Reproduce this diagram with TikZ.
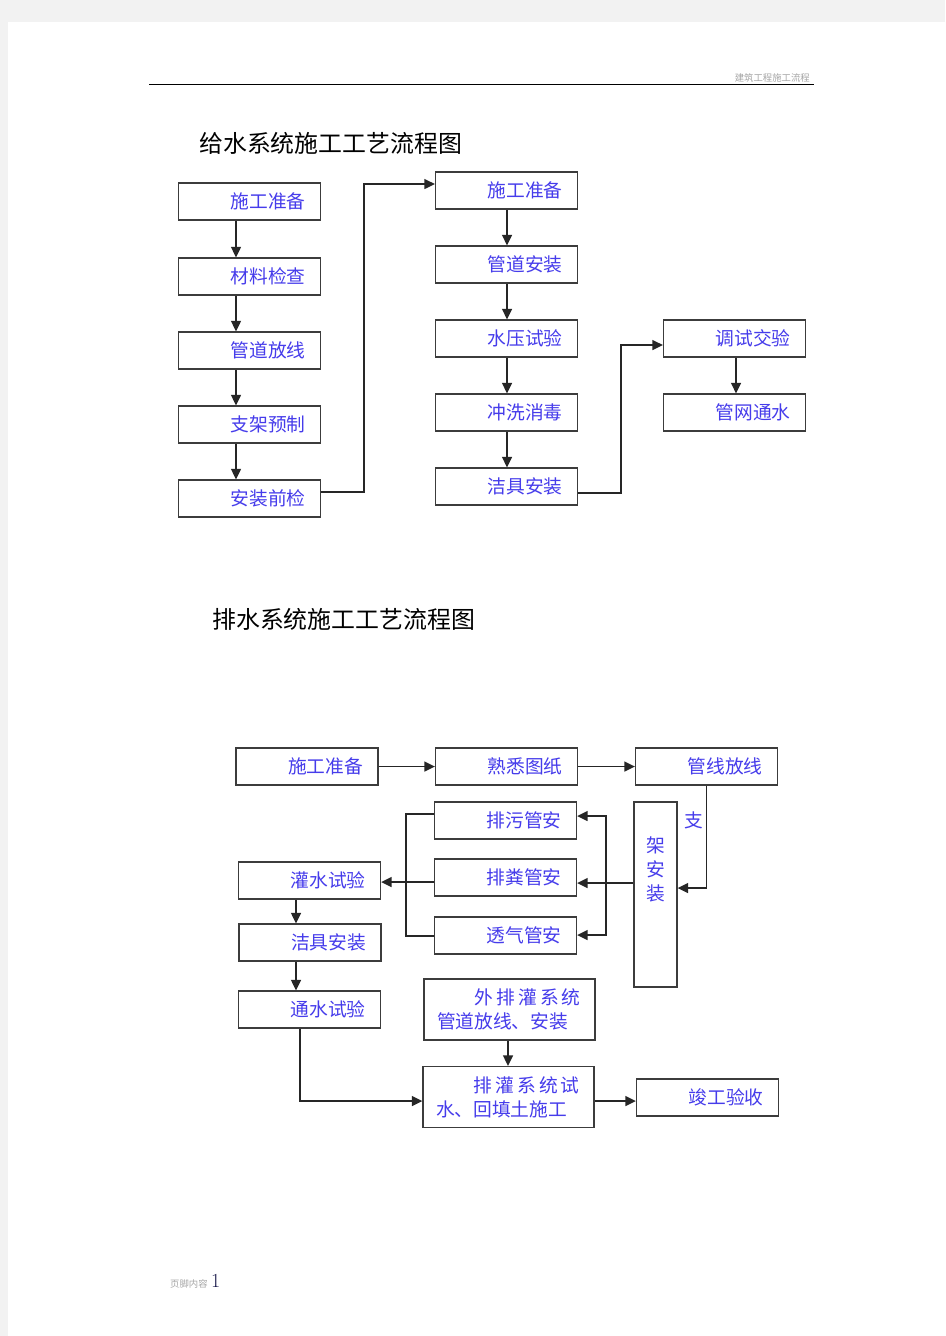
\documentclass[tikz,border=0pt]{standalone}
\usepackage{fontspec}
\newfontfamily\cjk{Noto Sans CJK SC}
\usetikzlibrary{arrows.meta}
\definecolor{txtblue}{RGB}{70,60,235}
\definecolor{boxgray}{RGB}{60,60,60}
\definecolor{pagegray}{RGB}{242,242,242}

\begin{document}
\begin{tikzpicture}[x=0.03cm,y=-0.03cm,
    box/.style={draw=boxgray,line width=1.1pt,minimum height=1.11cm,
        text width=3.36cm,inner xsep=0.45cm,inner ysep=0pt,align=right,
        text=txtblue,font=\cjk\fontsize{16}{20.5}\selectfont},
    widebox/.style={box,text width=4.35cm,inner xsep=0.39cm,align=left,
        minimum height=1.83cm},
    lbl/.style={text=txtblue,inner sep=0pt,font=\cjk\fontsize{16}{20.5}\selectfont},
    ttl/.style={anchor=west,inner sep=0pt,font=\cjk\fontsize{20.4}{24}\selectfont},
    ln/.style={line width=1.4pt,draw=black!85},
    arr/.style={ln,-{Triangle[length=9pt,width=8.5pt]}}]

    % page and header
    \fill[pagegray] (0,0) rectangle (945,1336);
    \fill[white] (8,22) rectangle (945,1336);
    \useasboundingbox (0,0) rectangle (945,1336);
    \draw[line width=0.8pt] (149,84) -- (814,84);
    \node[anchor=east,inner sep=0pt,text=black!35,font=\cjk\fontsize{8}{10}\selectfont] (hdr) at (810,78) {建筑工程施工流程};
    \node[anchor=west,inner sep=0pt,text=black!35,font=\cjk\fontsize{8}{10}\selectfont] (ftr) at (170,1284) {页脚内容};
    \node[anchor=west,inner sep=0pt,text={rgb,255:red,20;green,20;blue,70},font=\fontsize{17}{18}\selectfont] (pgno) at (211,1281) {1};

    % water supply
    \node[ttl] (title1) at (199,143) {给水系统施工工艺流程图};

    \node[box] (l1) at (249.5,201.5) {施工准备};
    \node[box] (l2) at (249.5,276.5) {材料检查};
    \node[box] (l3) at (249.5,350.5) {管道放线};
    \node[box] (l4) at (249.5,424.5) {支架预制};
    \node[box] (l5) at (249.5,498.5) {安装前检};

    \node[box] (m1) at (506.5,190.5) {施工准备};
    \node[box] (m2) at (506.5,264.5) {管道安装};
    \node[box] (m3) at (506.5,338.5) {水压试验};
    \node[box] (m4) at (506.5,412.5) {冲洗消毒};
    \node[box] (m5) at (506.5,486.5) {洁具安装};

    \node[box] (r1) at (734.5,338.5) {调试交验};
    \node[box] (r2) at (734.5,412.5) {管网通水};

    \foreach \a/\b in {l1/l2,l2/l3,l3/l4,l4/l5} {
        \draw[arr] (\a.south -| 236,0) -- (\b.north -| 236,0);
    }
    \foreach \a/\b in {m1/m2,m2/m3,m3/m4,m4/m5} {
        \draw[arr] (\a.south -| 507,0) -- (\b.north -| 507,0);
    }
    \draw[arr] (r1.south -| 736,0) -- (r2.north -| 736,0);
    \draw[arr] (l5.east |- 0,492) -- (364,492) |- (m1.west |- 0,184);
    \draw[arr] (m5.east |- 0,493) -- (621,493) |- (r1.west |- 0,345);

    % drainage
    \node[ttl] (title2) at (212,619) {排水系统施工工艺流程图};

    \node[box] (ps1) at (307,766.5) {施工准备};
    \node[box] (ps2) at (506.5,766.5) {熟悉图纸};
    \node[box] (ps3) at (706.5,766.5) {管线放线};

    \node[draw=boxgray,line width=1.1pt,minimum width=1.29cm,minimum height=5.55cm,inner sep=0pt] (zj) at (655.5,894.5) {};
    \node[lbl,align=center] (zjtxt) at (656,869) {架\\安\\装};
    \node[lbl] (zhi) at (694,820) {支};

    \node[box] (pw) at (505.5,820.5) {排污管安};
    \node[box] (pf) at (505.5,877.5) {排粪管安};
    \node[box] (tq) at (505.5,935.5) {透气管安};

    \node[box] (gs) at (309.5,880.5) {灌水试验};
    \node[box] (jj) at (310,942.5) {洁具安装};
    \node[box] (ts) at (309.5,1009.5) {通水试验};

    \node[widebox] (wp) at (509.5,1009.5) {\hspace*{2em}外\,排\,灌\,系\,统\\管道放线、安装};
    \node[widebox] (pg) at (508.5,1097) {\hspace*{2em}排\,灌\,系\,统\,试\\水、回填土施工};
    \node[box] (jg) at (707.5,1097.5) {竣工验收};

    \draw[arr] (ps1.east) -- (ps2.west);
    \draw[arr] (ps2.east) -- (ps3.west);
    \draw[arr] (ps3.south) |- (zj.east |- 0,888);

    \draw[arr] (zj.west |- 0,883) -- (pf.east |- 0,883);
    \draw[arr] (606,883) -- (606,816) -- (pw.east |- 0,816);
    \draw[arr] (606,883) -- (606,935) -- (tq.east |- 0,935);

    \draw[ln] (pw.west |- 0,814) -- (406,814) -- (406,936) -- (tq.west |- 0,936);
    \draw[arr] (pf.west |- 0,882) -- (gs.east |- 0,882);

    \draw[arr] (gs.south -| 296,0) -- (jj.north -| 296,0);
    \draw[arr] (jj.south -| 296,0) -- (ts.north -| 296,0);
    \draw[arr] (ts.south -| 300,0) |- (pg.west |- 0,1101);
    \draw[arr] (wp.south -| 508,0) -- (pg.north -| 508,0);
    \draw[arr] (pg.east |- 0,1101) -- (jg.west |- 0,1101);
\end{tikzpicture}
\end{document}
